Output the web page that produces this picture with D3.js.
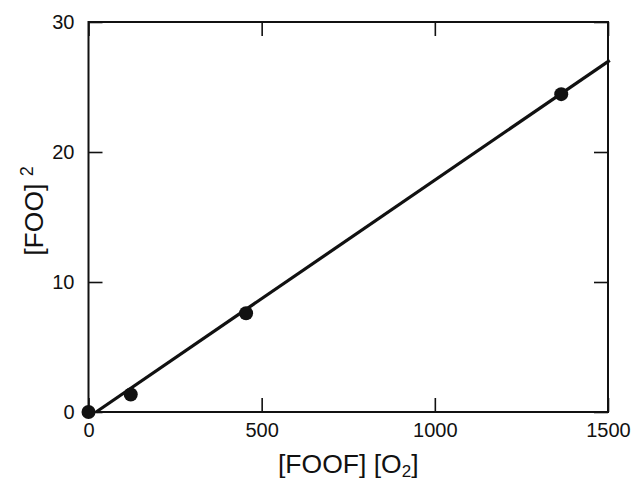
<!DOCTYPE html>
<html>
<head>
<meta charset="utf-8">
<script src="https://cdn.jsdelivr.net/npm/d3@7"></script>
<style>
  body { margin: 0; background: #fff; }
  text { font-family: "Liberation Sans", Arial, Helvetica, sans-serif; fill: #111; }
</style>
</head>
<body>
<div id="chart-area"></div>
<script>
// data
const pointX = [0, 122, 455, 1365]
const pointY = [0, 1.35, 7.6, 24.45]
// fitted straight line (two ends)
const fitX = [22, 1505]
const fitY = [0, 27.05]
const xTicks = [0, 500, 1000, 1500]
const yTicks = [0, 10, 20, 30]

const MARGIN = { LEFT: 88.5, RIGHT: 26, TOP: 22, BOTTOM: 71 }
const WIDTH = 634 - MARGIN.LEFT - MARGIN.RIGHT
const HEIGHT = 483 - MARGIN.TOP - MARGIN.BOTTOM

const svg = d3.select("#chart-area").append("svg")
  .attr("width", 634)
  .attr("height", 483)

const g = svg.append("g")
  .attr("transform", `translate(${MARGIN.LEFT}, ${MARGIN.TOP})`)

// scales
const x = d3.scaleLinear().domain([0, 1500]).range([0, WIDTH])
const y = d3.scaleLinear().domain([0, 30]).range([HEIGHT, 0])

const TICK = 14

// axes, ticks point inward
const xAxis = g.append("g")
  .attr("transform", `translate(0, ${HEIGHT})`)
  .call(d3.axisBottom(x).tickValues(xTicks).tickFormat(d3.format("d"))
    .tickSize(-TICK).tickPadding(11).tickSizeOuter(0))
const yAxis = g.append("g")
  .call(d3.axisLeft(y).tickValues(yTicks).tickFormat(d3.format("d"))
    .tickSize(-TICK).tickPadding(14).tickSizeOuter(0))
const xTop = g.append("g")
  .call(d3.axisTop(x).tickValues(xTicks).tickSize(-TICK).tickFormat("").tickSizeOuter(0))
const yRight = g.append("g")
  .attr("transform", `translate(${WIDTH}, 0)`)
  .call(d3.axisRight(y).tickValues(yTicks).tickSize(-TICK).tickFormat("").tickSizeOuter(0))

g.selectAll(".domain").remove()
g.selectAll(".tick line").attr("stroke", "#111").attr("stroke-width", 1.6)
g.selectAll(".tick text").style("font-size", "20px")

// frame
g.append("rect")
  .attr("width", WIDTH)
  .attr("height", HEIGHT)
  .attr("fill", "none")
  .attr("stroke", "#111")
  .attr("stroke-width", 2)

// fit line
const fit = fitX.map((d, i) => ({ x: d, y: fitY[i] }))
const line = d3.line()
  .x(d => x(d.x))
  .y(d => y(d.y))

g.append("path")
  .attr("fill", "none")
  .attr("stroke", "#111")
  .attr("stroke-width", 3.2)
  .attr("d", line(fit))

// points
const points = pointX.map((d, i) => ({ x: d, y: pointY[i] }))
g.selectAll("circle")
  .data(points)
  .enter().append("circle")
  .attr("cx", d => x(d.x))
  .attr("cy", d => y(d.y))
  .attr("r", 7)
  .attr("fill", "#111")

// x label
const xLabel = svg.append("text")
  .attr("x", MARGIN.LEFT + WIDTH / 2)
  .attr("y", 473)
  .attr("text-anchor", "middle")
  .style("font-size", "26.5px")
xLabel.append("tspan").text("[FOOF] [O")
xLabel.append("tspan").attr("baseline-shift", "-4").style("font-size", "17px").text("2")
xLabel.append("tspan").text("]")

// y label
const yLabel = svg.append("text")
  .attr("transform", `translate(43, ${MARGIN.TOP + HEIGHT / 2 - 6}) rotate(-90)`)
  .attr("text-anchor", "middle")
  .style("font-size", "26.5px")
yLabel.append("tspan").text("[FOO] ")
yLabel.append("tspan").attr("baseline-shift", "super").style("font-size", "18px").text("2")
</script>
</body>
</html>
